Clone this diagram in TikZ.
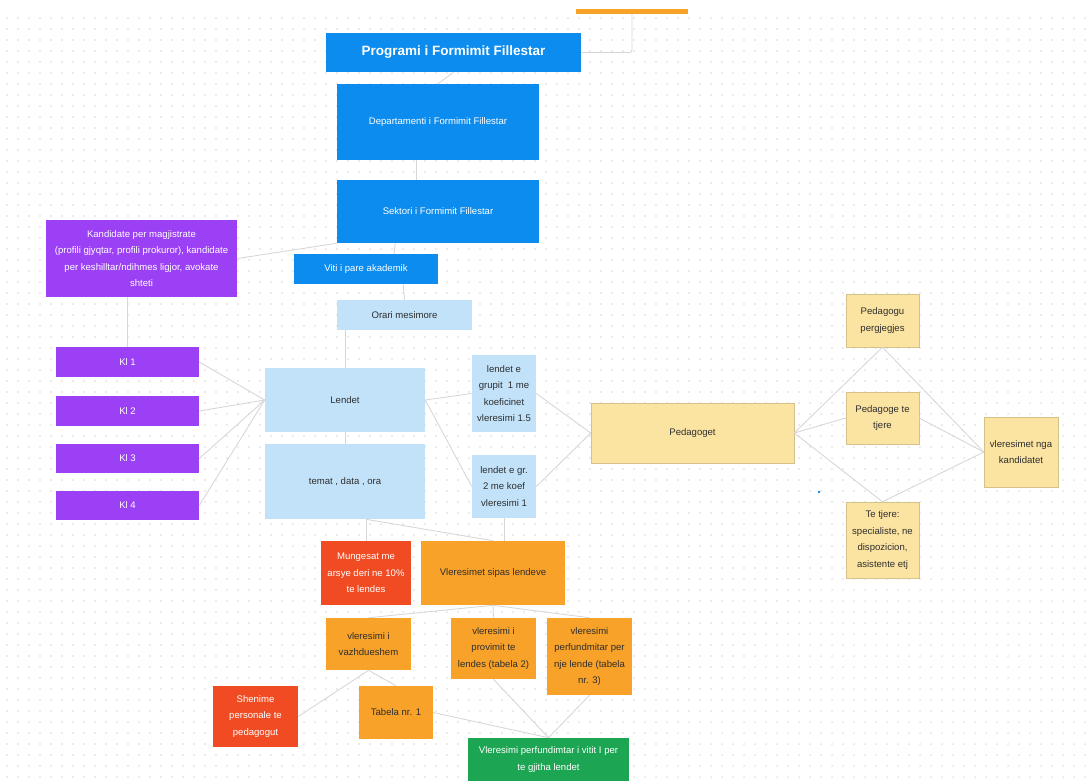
\documentclass[tikz,border=0pt]{standalone}
\usepackage{fontspec}
\setmainfont{Liberation Sans}
\usepackage{xcolor}
\usepackage{tikz}

\definecolor{cblue}{HTML}{0C8CEE}
\definecolor{clila}{HTML}{9B40F4}
\definecolor{clight}{HTML}{C2E2FA}
\definecolor{cpale}{HTML}{FBE4A2}
\definecolor{cred}{HTML}{F04B22}
\definecolor{corange}{HTML}{F8A22A}
\definecolor{cgreen}{HTML}{1CA552}
\definecolor{cline}{HTML}{D6D6D6}
\definecolor{cdot}{HTML}{D8D8D8}
\definecolor{ctext}{HTML}{2E2E2E}

\begin{document}
\begin{tikzpicture}[x=0.025cm, y=-0.025cm,
  box/.style={rectangle, inner sep=1pt, align=center, font=\fontsize{6.8}{11.7}\selectfont},
  wh/.style 2 args={minimum width=#1*0.025cm, minimum height=#2*0.025cm},
  bluebox/.style={box, fill=cblue, text=white},
  lilabox/.style={box, fill=clila, text=white},
  lightbox/.style={box, fill=clight, text=ctext},
  palebox/.style={box, fill=cpale, draw=cpale!85!black, line width=0.3pt, text=ctext},
  redbox/.style={box, fill=cred, text=white},
  orangebox/.style={box, fill=corange, text=ctext},
  greenbox/.style={box, fill=cgreen, text=white},
  conn/.style={draw=cline, line width=0.6pt}]
\useasboundingbox[fill=white] (0,0) rectangle (1090,783);

% dotted background
\foreach \i in {0,...,98}
  \foreach \j in {0,...,69}
    \fill[cdot] (7+11*\i, 18+11*\j) circle (0.55pt);

% top part
\node[fill=corange, inner sep=0pt, wh={112}{5}] (bar) at (632,11) {};
\node[bluebox, wh={255}{39}, font=\fontsize{9.6}{12}\selectfont\bfseries] (prog) at (453.5,52.5) {Programi i Formimit Fillestar};
\node[bluebox, wh={202}{76}] (dep) at (438,122) {Departamenti i Formimit Fillestar};
\node[bluebox, wh={202}{63}] (sek) at (438,211.5) {Sektori i Formimit Fillestar};
\node[bluebox, wh={144}{30}] (viti) at (366,269) {Viti i pare akademik};
\node[lightbox, wh={135}{30}] (orari) at (404.5,315) {Orari mesimore};

% candidates and classes
\node[lilabox, wh={191}{77}] (kand) at (141.5,258.5) {Kandidate per magjistrate\\(profili gjyqtar, profili prokuror), kandidate\\per keshilltar/ndihmes ligjor, avokate\\shteti};
\node[lilabox, wh={143}{30}] (kl1) at (127.5,362) {Kl 1};
\node[lilabox, wh={143}{30}] (kl2) at (127.5,411) {Kl 2};
\node[lilabox, wh={143}{29}] (kl3) at (127.5,458.5) {Kl 3};
\node[lilabox, wh={143}{29}] (kl4) at (127.5,505.5) {Kl 4};

% subjects
\node[lightbox, wh={160}{64}] (lendet) at (345,400) {Lendet};
\node[lightbox, wh={160}{75}] (temat) at (345,481.5) {temat , data , ora};
\node[lightbox, wh={64}{77}] (gr1) at (504,393.5) {lendet e\\grupit\ \ 1 me\\koeficinet\\vleresimi 1.5};
\node[lightbox, wh={64}{63}] (gr2) at (504,486.5) {lendet e gr.\\2 me koef\\vleresimi 1};

% teachers
\node[palebox, wh={203}{60}] (ped) at (692.5,433) {Pedagoget};
\node[palebox, wh={73}{53}] (pergj) at (882.5,320.5) {Pedagogu\\pergjegjes};
\node[palebox, wh={73}{52}] (tjere) at (882.5,418) {Pedagoge te\\tjere};
\node[palebox, wh={73}{76}] (tetjere) at (882.5,540) {Te tjere:\\specialiste, ne\\dispozicion,\\asistente etj};
\node[palebox, wh={74}{70}] (vlnga) at (1021,452) {vleresimet nga\\kandidatet};
\fill[cblue] (819,492) circle (1pt);

% assessment
\node[redbox, wh={90}{64}] (mung) at (366,573) {Mungesat me\\arsye deri ne 10\%\\te lendes};
\node[orangebox, wh={144}{64}] (vsip) at (493,573) {Vleresimet sipas lendeve};
\node[orangebox, wh={85}{52}] (vazh) at (368.5,644) {vleresimi i\\vazhdueshem};
\node[orangebox, wh={85}{61}] (prov) at (493.5,648.5) {vleresimi i\\provimit te\\lendes (tabela 2)};
\node[orangebox, wh={85}{77}] (perf) at (589.5,656.5) {vleresimi\\perfundmitar per\\nje lende (tabela\\nr. 3)};
\node[redbox, wh={85}{61}] (shen) at (255.5,716.5) {Shenime\\personale te\\pedagogut};
\node[orangebox, wh={74}{53}] (tab1) at (396,712.5) {Tabela nr. 1};
\node[greenbox, wh={161}{43}] (fin) at (548.5,759.5) {Vleresimi perfundimtar i vitit I per\\te gjitha lendet};

% connectors
\draw[conn, rounded corners=2pt] (bar.south) |- (prog.east);
\draw[conn] (prog.south) -- (dep.north);
\draw[conn] ([xshift=-0.53cm]dep.south) -- ([xshift=-0.53cm]sek.north);
\draw[conn] ([xshift=-1.07cm]sek.south) -- ([xshift=0.7cm]viti.north);
\draw[conn] (sek.south west) -- (kand.east);
\draw[conn] ([xshift=0.93cm]viti.south) -- (orari.north);
\draw[conn] (kl1.north |- kand.south) -- (kl1.north);
\draw[conn] (kl1.east) -- (lendet.west);
\draw[conn] (kl2.east) -- (lendet.west);
\draw[conn] (kl3.east) -- (lendet.west);
\draw[conn] (kl4.east) -- (lendet.west);
\draw[conn] (lendet.north |- orari.south) -- (lendet.north);
\draw[conn] (lendet.south) -- (temat.north);
\draw[conn] (lendet.east) -- (gr1.west);
\draw[conn] (lendet.east) -- (gr2.west);
\draw[conn] (gr1.east) -- (ped.west);
\draw[conn] (gr2.east) -- (ped.west);
\draw[conn] (ped.east) -- (pergj.south);
\draw[conn] (ped.east) -- (tjere.west);
\draw[conn] (ped.east) -- (tetjere.north);
\draw[conn] (pergj.south) -- (vlnga.west);
\draw[conn] (tjere.east) -- (vlnga.west);
\draw[conn] (tetjere.north) -- (vlnga.west);
\draw[conn] (mung.north |- temat.south) -- (mung.north);
\draw[conn] (mung.north |- temat.south) -- (vsip.north);
\draw[conn] (gr2.south) -- (gr2.south |- vsip.north);
\draw[conn] (vsip.south) -- (vazh.north);
\draw[conn] (vsip.south) -- (prov.north);
\draw[conn] (vsip.south) -- (perf.north);
\draw[conn] (vazh.south) -- (shen.east);
\draw[conn] (vazh.south) -- (tab1.north);
\draw[conn] (tab1.east) -- (fin.north);
\draw[conn] (prov.south) -- (fin.north);
\draw[conn] (perf.south) -- (fin.north);
\end{tikzpicture}
\end{document}
